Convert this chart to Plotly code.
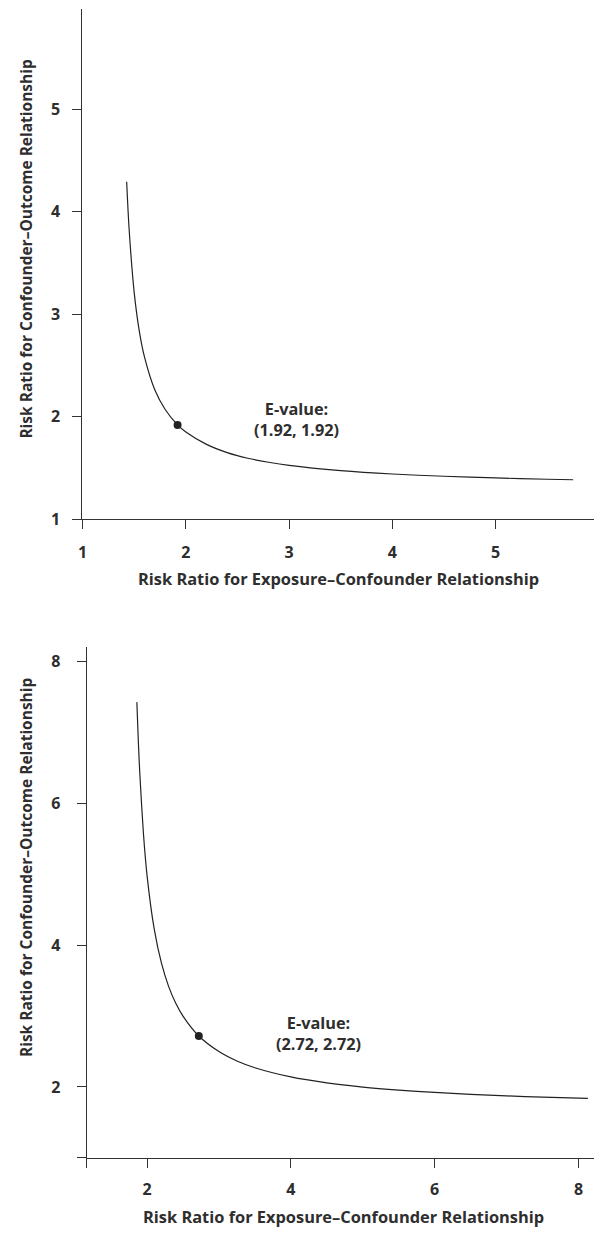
import plotly.graph_objects as go

# ---- data ----
# Panel A: E-value 1.92
top_x = [1.427, 1.45, 1.5, 1.55, 1.6, 1.7, 1.8, 1.92, 2.0, 2.2, 2.4, 2.6, 2.8,
         3.0, 3.5, 4.0, 4.5, 5.0, 5.5, 5.75]
top_y = [4.29, 3.84, 3.21, 2.83, 2.58, 2.26, 2.07, 1.92, 1.85, 1.73, 1.65, 1.595,
         1.556, 1.525, 1.474, 1.441, 1.419, 1.403, 1.39, 1.385]
top_point = (1.92, 1.92)
top_label = "E-value:<br>(1.92, 1.92)"
top_ticks = [1, 2, 3, 4, 5]

# Panel B: E-value 2.72
bot_x = [1.859, 1.88, 1.9, 1.95, 2.0, 2.1, 2.2, 2.3, 2.4, 2.5, 2.72, 3.0, 3.25,
         3.5, 4.0, 4.5, 5.0, 5.5, 6.0, 6.5, 7.0, 7.5, 8.13]
bot_y = [7.43, 6.86, 6.42, 5.58, 4.99, 4.23, 3.75, 3.42, 3.18, 3.0, 2.72, 2.5,
         2.367, 2.272, 2.142, 2.058, 1.999, 1.956, 1.923, 1.896, 1.874, 1.857, 1.838]
bot_point = (2.72, 2.72)
bot_label = "E-value:<br>(2.72, 2.72)"
bot_xticks = [1.162, 2, 4, 6, 8]
bot_xticktext = ["", "2", "4", "6", "8"]
bot_yticks = [1, 2, 4, 6, 8]
bot_yticktext = ["", "2", "4", "6", "8"]

x_title = "Risk Ratio for Exposure\u2013Confounder Relationship"
y_title = "Risk Ratio for Confounder\u2013Outcome Relationship"

W, H = 594, 1239
FONT = "Open Sans"
INK = "#2e2e2e"

fig = go.Figure()
fig.add_trace(go.Scatter(x=top_x, y=top_y, mode="lines", line=dict(color="#222", width=1.2, shape="spline", smoothing=0.8),
                         xaxis="x", yaxis="y", hoverinfo="skip"))
fig.add_trace(go.Scatter(x=[top_point[0]], y=[top_point[1]], mode="markers",
                         marker=dict(color="#222", size=8), xaxis="x", yaxis="y"))
fig.add_trace(go.Scatter(x=bot_x, y=bot_y, mode="lines", line=dict(color="#222", width=1.2, shape="spline", smoothing=0.8),
                         xaxis="x2", yaxis="y2", hoverinfo="skip"))
fig.add_trace(go.Scatter(x=[bot_point[0]], y=[bot_point[1]], mode="markers",
                         marker=dict(color="#222", size=8), xaxis="x2", yaxis="y2"))

tickfont = dict(family=FONT, size=16, color=INK, weight="bold")
common = dict(showline=True, linecolor="#333", linewidth=1.3, ticks="outside", ticklen=9,
              tickwidth=1.3, tickcolor="#333", showgrid=False, zeroline=False,
              tickfont=tickfont, fixedrange=True)

fig.update_layout(
    width=W, height=H, margin=dict(l=0, r=0, t=0, b=0),
    paper_bgcolor="white", plot_bgcolor="white", showlegend=False,
    xaxis=dict(common, domain=[79 / W, 1.0], range=[0.999, 1 + (W - 79) / 104], anchor="y",
               tickvals=top_ticks, ticklabelstandoff=9),
    yaxis=dict(common, domain=[1 - 524 / H, 1 - 9 / H], range=[0.999, 1 + (524 - 9) / 103.5], anchor="x",
               tickvals=top_ticks, ticklabelstandoff=9),
    xaxis2=dict(common, domain=[83.3 / W, 1.0], range=[1.1619, 2 + (W - 144) / 72.4], anchor="y2",
                tickvals=bot_xticks, ticktext=bot_xticktext, ticklabelstandoff=8),
    yaxis2=dict(common, domain=[1 - 1168.3 / H, 1 - 652.7 / H], range=[0.999, 8 + (667.7 - 652.7) / 71.6],
                anchor="x2", tickvals=bot_yticks, ticktext=bot_yticktext, ticklabelstandoff=13),
)

labfont = dict(family=FONT, size=16.3, color=INK, weight="bold")
xtfont = dict(family=FONT, size=16.4, color=INK, weight="bold")
ytfont = dict(family=FONT, size=15.5, color=INK, weight="bold")
annos = [
    dict(text=top_label, x=3.07, y=1.97, xref="x", yref="y", showarrow=False, font=labfont, align="center"),
    dict(text=bot_label, x=4.38, y=2.75, xref="x2", yref="y2", showarrow=False, font=labfont, align="center"),
    dict(text=x_title, x=337 / W, y=1 - 584 / H, xref="paper", yref="paper", showarrow=False, font=xtfont,
         xanchor="center", yanchor="middle"),
    dict(text=y_title, x=22 / W, y=1 - 251 / H, xref="paper", yref="paper", showarrow=False, font=ytfont,
         xanchor="center", yanchor="middle", textangle=-90),
    dict(text=x_title, x=342 / W, y=1 - 1227 / H, xref="paper", yref="paper", showarrow=False, font=xtfont,
         xanchor="center", yanchor="middle"),
    dict(text=y_title, x=22 / W, y=1 - 875 / H, xref="paper", yref="paper", showarrow=False, font=ytfont,
         xanchor="center", yanchor="middle", textangle=-90),
]
fig.update_layout(annotations=annos)

fig.write_html("out.html")
